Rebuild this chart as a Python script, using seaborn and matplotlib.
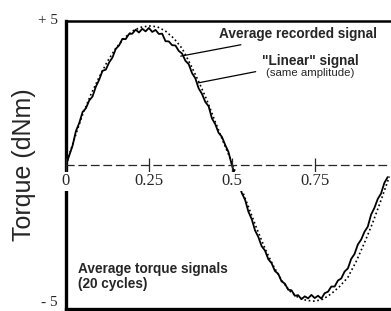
import numpy as np
import matplotlib
matplotlib.use("Agg")
import matplotlib.pyplot as plt
import pandas as pd
import seaborn as sns

rec_phase = np.round(np.arange(0, 0.975, 0.01), 3)
rec_torque = [
    0.00, 0.34, 0.68, 1.18, 1.46, 1.84, 1.97, 2.24, 2.38, 2.72,
    2.96, 3.27, 3.31, 3.56, 3.73, 4.03, 4.15, 4.38, 4.37, 4.55,
    4.56, 4.70, 4.60, 4.73, 4.64, 4.76, 4.62, 4.69, 4.55, 4.56,
    4.30, 4.29, 4.16, 4.15, 3.96, 3.87, 3.62, 3.50, 3.19, 3.01,
    2.66, 2.47, 2.19, 2.04, 1.62, 1.42, 1.12, 0.98, 0.70, 0.45,
    0.00, -0.36, -0.60, -0.97, -1.21, -1.62, -1.88, -2.27, -2.50, -2.82,
    -2.97, -3.27, -3.41, -3.68, -3.78, -4.04, -4.12, -4.33, -4.35, -4.54,
    -4.52, -4.66, -4.56, -4.63, -4.51, -4.62, -4.54, -4.64, -4.45, -4.40,
    -4.22, -4.22, -4.01, -3.94, -3.70, -3.59, -3.26, -3.09, -2.76, -2.59,
    -2.32, -2.14, -1.72, -1.49, -1.18, -0.99, -0.62, -0.42,
]

# "linear" signal, every 0.025 of a cycle
lin_phase = np.round(np.arange(0, 0.976, 0.025), 3)
lin_torque = [
    0.00, 0.90, 1.75, 2.45, 3.05, 3.60, 4.05, 4.40, 4.65, 4.78,
    4.83, 4.80, 4.65, 4.40, 4.05, 3.50, 2.90, 2.25, 1.50, 0.78,
    0.10, -0.70, -1.45, -2.20, -2.90, -3.50, -4.00, -4.38, -4.60, -4.70,
    -4.73, -4.66, -4.47, -4.22, -3.90, -3.35, -2.70, -2.00, -1.22, -0.40,
]

xticks = [0, 0.25, 0.5, 0.75]
xticklabels = ["0", "0.25", "0.5", "0.75"]
yticks = [-5, 5]
yticklabels = ["- 5", "+ 5"]

rec = pd.DataFrame({"phase": rec_phase, "torque": rec_torque})
lin = pd.DataFrame({"phase": lin_phase, "torque": lin_torque})

sns.set_style("white")
SANS = ["Liberation Sans", "DejaVu Sans"]
SERIF = ["Liberation Serif", "DejaVu Serif"]

fig = plt.figure(figsize=(3.91, 3.11), dpi=100)
ax = fig.add_axes([66 / 391, 2 / 311, 325 / 391, 288 / 311])

sns.lineplot(data=lin, x="phase", y="torque", ax=ax, color="black",
             linestyle=(0, (1, 1.6)), linewidth=1.2, sort=False, estimator=None)
sns.lineplot(data=rec, x="phase", y="torque", ax=ax, color="black",
             linewidth=1.3, sort=False, estimator=None)

ax.set_xlim(0, 0.98)
ax.set_ylim(-5, 5)
ax.set_xlabel("")
ax.set_ylabel("Torque (dNm)", family=SANS, fontsize=18, labelpad=1)
ax.set_xticks([])
ax.set_yticks(yticks, labels=yticklabels, family=SERIF, fontsize=11)
ax.tick_params(axis="y", length=0, pad=6)
ax.get_yticklabels()[0].set_va("bottom")
ax.get_yticklabels()[1].set_va("center")

for side in ["left", "bottom"]:
    ax.spines[side].set_linewidth(2.4)
ax.spines["top"].set_linewidth(1.8)
ax.spines["right"].set_visible(False)
for side in ["left", "bottom", "top"]:
    ax.spines[side].set_color("black")

# dashed zero axis carrying the phase ticks
sec = ax.secondary_xaxis(0.5)
sec.set_alignment("bottom")
sec.set_zorder(3)
sec.spines["bottom"].set_linestyle((0, (6, 4)))
sec.spines["bottom"].set_linewidth(0.9)
sec.set_xticks(xticks, labels=xticklabels, family=SERIF, fontsize=12)
sec.tick_params(axis="x", direction="inout", length=10, width=0.9, pad=1)
for lbl in sec.get_xticklabels():
    lbl.set_bbox(dict(facecolor="white", edgecolor="none", pad=1))

ax.annotate("Average recorded signal", xy=(0.346, 3.78), xytext=(0.461, 4.55),
            ha="left", va="center", family=SANS, fontsize=9.8, fontweight="bold",
            arrowprops=dict(arrowstyle="-", color="black", lw=0.9,
                            shrinkA=2, shrinkB=0))
ax.annotate('"Linear" signal', xy=(0.398, 2.85), xytext=(0.59, 3.61),
            ha="left", va="center", family=SANS, fontsize=9.8, fontweight="bold",
            arrowprops=dict(arrowstyle="-", color="black", lw=0.9,
                            shrinkA=2, shrinkB=0))
ax.text(0.736, 3.19, "(same amplitude)", ha="center", va="center",
        family=SANS, fontsize=8.2)
ax.text(0.036, -3.87, "Average torque signals\n(20 cycles)", ha="left",
        va="center", family=SANS, fontsize=9.8, fontweight="bold",
        linespacing=1.1)

fig.savefig("out.png", dpi=100)
